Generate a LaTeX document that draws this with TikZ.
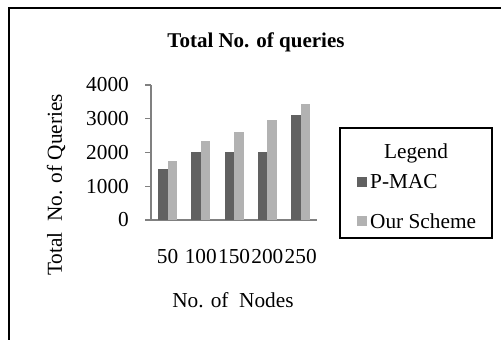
\documentclass[tikz,border=0pt]{standalone}
\usepackage{fontspec}
\setmainfont{Liberation Serif}
\begin{document}
\begin{tikzpicture}[x=1pt,y=-1pt,font=\fontsize{21.3}{25}\selectfont,
    pmac/.style={fill=black!62},
    ours/.style={fill=black!30},
    axis/.style={draw=black!50,line width=1.2pt}]
            \useasboundingbox (0,0) rectangle (501,340);
            \draw [line width=1.5] (9,340)--(9,8)--(501,8);
            \node [font=\fontsize{21}{25}\selectfont\bfseries] (title) at (256,42) {Total No. of queries};
            \node [rotate=90] (ylab) at (56,185) {Total\ \ No. of Queries};
            \node (xlab) at (233,300) {No. of\ \ Nodes};
            % axes
            \draw [axis] (151,85)--(151,220);
            \draw [axis] (145,220)--(317,220);
            \foreach \v/\t in {0/0,1/1000,2/2000,3/3000,4/4000} {
                \draw [axis] (145,220-33.75*\v)--(151,220-33.75*\v);
                \node [anchor=east,inner sep=0] (tick\v) at (129,220-33.75*\v) {\t};
            }
            % bars
            \foreach \i/\a/\b/\n in {0/1500/1750/50,1/2000/2350/100,2/2000/2620/150,3/2000/2950/200,4/3100/3450/250} {
                \fill [pmac] (158+33.3*\i,220) rectangle (167.5+33.3*\i,220-0.03375*\a);
                \fill [ours] (167.5+33.3*\i,220) rectangle (177+33.3*\i,220-0.03375*\b);
                \node [inner sep=0] (cat\i) at (167.5+33.3*\i,257) {\n};
            }
            % legend
            \node [draw,line width=1.5,minimum width=152,minimum height=110,inner sep=0] (legend) at (416,183) {};
            \node (legtitle) at (416,153) {Legend};
            \fill [pmac] (357,177) rectangle (367,187);
            \node [anchor=west,inner sep=0] (legp) at (370,182) {P-MAC};
            \fill [ours] (357,216) rectangle (367,226);
            \node [anchor=west,inner sep=0] (lego) at (370,221) {Our Scheme};
        \end{tikzpicture}
\end{document}
